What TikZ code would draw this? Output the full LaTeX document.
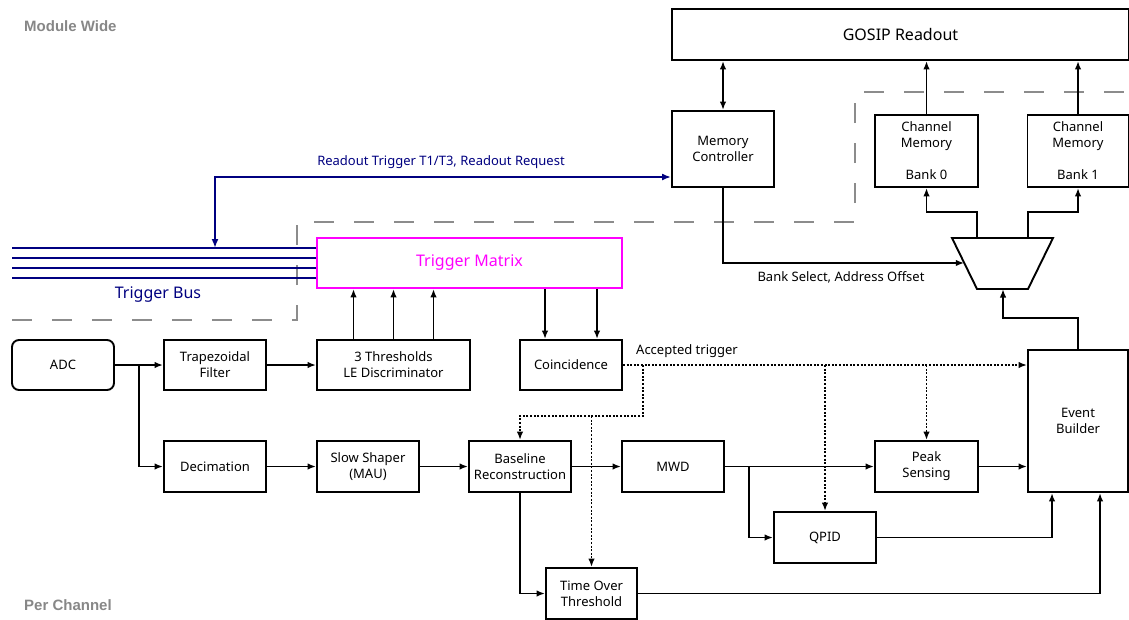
\documentclass[tikz,border=0pt]{standalone}
\usepackage{fontspec}
\setmainfont{Noto Sans}
\newfontfamily\regionfont{Liberation Sans}
\usetikzlibrary{arrows.meta,calc}
\definecolor{navyC}{RGB}{0,0,128}
\definecolor{regionC}{RGB}{135,135,135}
\definecolor{dashC}{RGB}{140,140,140}
\definecolor{magentaC}{RGB}{255,0,255}
\begin{document}
\begin{tikzpicture}[x=1pt,y=-1pt,
  box/.style={draw, line width=1.9pt, rectangle, inner sep=0pt, align=center,
    font=\fontsize{13}{16}\selectfont, minimum width=102pt, minimum height=51pt},
  conn/.style={line width=1.9pt, -{Latex[length=8.5pt,width=6.5pt]}},
  dconn/.style={conn, dash pattern=on 2pt off 1.6pt},
  nconn/.style={line width=1.9pt, navyC, {Latex[length=9pt,width=7pt]}-{Latex[length=9pt,width=7pt]}},
  busline/.style={line width=1.9pt, navyC},
  region/.style={dashC, line width=2pt, dash pattern=on 20pt off 20pt},
  regionlabel/.style={anchor=base west, regionC, font=\regionfont\bfseries\fontsize{15}{18}\selectfont, inner sep=0pt},
  lbl/.style={font=\fontsize{13}{16}\selectfont, inner sep=0pt}
]
\useasboundingbox (0,0) rectangle (1129,619);

% region boundary
\draw[region] (12,320) -- (297,320) -- (297,222) -- (855,222) -- (855,92) -- (1129,92);
\node[regionlabel] (mw) at (24,31) {Module Wide};
\node[regionlabel] (pc) at (24,610) {Per Channel};

% boxes
\node[box, minimum width=457pt, minimum height=51pt, font=\fontsize{16}{19}\selectfont] (gosip) at (900.5,34.5) {GOSIP Readout};
\node[box, minimum height=76pt] (memc) at (723,149) {Memory\\Controller};
\node[box, minimum width=103pt, minimum height=72pt] (bank0) at (926.5,151) {Channel\\Memory\\\mbox{}\\Bank 0};
\node[box, minimum width=101pt, minimum height=72pt] (bank1) at (1078,151) {Channel\\Memory\\\mbox{}\\Bank 1};
\node[box, draw=magentaC, text=magentaC, minimum width=305pt, minimum height=50pt, font=\fontsize{16}{19}\selectfont] (tm) at (469.5,263) {Trigger Matrix};

\node[box, rounded corners=7pt, minimum height=50pt] (adc) at (63,365) {ADC};
\node[box, minimum height=50pt] (trap) at (215,365) {Trapezoidal\\Filter};
\node[box, minimum width=153pt, minimum height=50pt] (thr) at (393.5,365) {3 Thresholds\\LE Discriminator};
\node[box, minimum height=50pt] (coinc) at (571,365) {Coincidence};

\node[box] (dec) at (215,466.5) {Decimation};
\node[box] (slow) at (368,466.5) {Slow Shaper\\(MAU)};
\node[box] (base) at (520,466.5) {Baseline\\Reconstruction};
\node[box] (mwd) at (673,466.5) {MWD};
\node[box, minimum width=103pt] (peak) at (926.5,466.5) {Peak\\Sensing};
\node[box] (qpid) at (825,537.5) {QPID};
\node[box, minimum width=91pt] (tot) at (591.5,593.5) {Time Over\\Threshold};
\node[box, minimum width=100pt, minimum height=142pt] (evb) at (1078,421) {Event\\Builder};

% multiplexer
\coordinate (m1) at (952,238);
\coordinate (m2) at (1053,238);
\coordinate (m3) at (1028,289);
\coordinate (m4) at (977,289);
\draw[line width=1.9pt, line join=miter] (m1) -- (m2) -- (m3) -- (m4) -- cycle;
\coordinate (mo0) at (977,238);
\coordinate (mo1) at (1028,238);
\coordinate (mb) at (1003,289);
\coordinate (mi) at ($(m1)!0.49!(m4)$);

% GOSIP connections
\draw[line width=1.9pt, {Latex[length=8.5pt,width=6.5pt]}-{Latex[length=8.5pt,width=6.5pt]}] (memc.north) -- (memc.north |- gosip.south);
\draw[conn] (bank0.north) -- (bank0.north |- gosip.south);
\draw[conn] (bank1.north) -- (bank1.north |- gosip.south);

% mux connections
\draw[conn] (mo0) -- ++(0,-26) -| (bank0.south);
\draw[conn] (mo1) -- ++(0,-26) -| (bank1.south);
\draw[conn] (memc.south) |- (mi);
\node[lbl] (bsl) at (841,277) {Bank Select, Address Offset};
\draw[conn] (evb.north) -- ++(0,-31) -| (mb);

% trigger bus
\coordinate (tb0) at (12,248);
\coordinate (tb1) at (12,258);
\coordinate (tb2) at (12,268);
\coordinate (tb3) at (12,278);
\draw[busline] (tb0) -- (tb0 -| tm.west);
\draw[busline] (tb1) -- (tb1 -| tm.west);
\draw[busline] (tb2) -- (tb2 -| tm.west);
\draw[busline] (tb3) -- (tb3 -| tm.west);
\node[lbl, navyC, font=\fontsize{16}{19}\selectfont] (tbl) at (158,295) {Trigger Bus};
\coordinate (rt) at (215,248);
\draw[nconn] ([yshift=-28pt]memc.west) -| (rt);
\node[lbl, navyC] (rtl) at (441,162) {Readout Trigger T1/T3, Readout Request};

% upper row
\draw[conn] (adc.east) -- (trap.west);
\coordinate (br1) at (139,365);
\draw[conn] (br1) |- (dec.west);
\draw[conn] (trap.east) -- (thr.west);
\draw[conn] ([xshift=-40pt]thr.north) -- ([xshift=-40pt]thr.north |- tm.south);
\draw[conn] (thr.north) -- (thr.north |- tm.south);
\draw[conn] ([xshift=40pt]thr.north) -- ([xshift=40pt]thr.north |- tm.south);
\draw[conn] ([xshift=-26pt]coinc.north |- tm.south) -- ([xshift=-26pt]coinc.north);
\draw[conn] ([xshift=26pt]coinc.north |- tm.south) -- ([xshift=26pt]coinc.north);

% lower row
\draw[conn] (dec.east) -- (slow.west);
\draw[conn] (slow.east) -- (base.west);
\draw[conn] (base.east) -- (mwd.west);
\draw[conn] (mwd.east) -- (peak.west);
\draw[conn] ([xshift=24pt]mwd.east) |- (qpid.west);
\draw[conn] (peak.east) -- (peak.east -| evb.west);
\draw[conn] (qpid.east) -| ([xshift=-26pt]evb.south);
\draw[conn] (base.south) |- (tot.west);
\draw[conn] (tot.east) -| ([xshift=22pt]evb.south);

% accepted trigger
\draw[dconn] (coinc.east) -- (coinc.east -| evb.west);
\node[lbl] (atl) at (687,351) {Accepted trigger};
\coordinate (dj) at (643,416);
\draw[dconn] (dj |- coinc.east) -- (dj) -| (base.north);
\draw[dconn] (dj -| tot.north) -- (tot.north);
\draw[dconn] (qpid.north |- coinc.east) -- (qpid.north);
\draw[dconn] (peak.north |- coinc.east) -- (peak.north);
\end{tikzpicture}
\end{document}
